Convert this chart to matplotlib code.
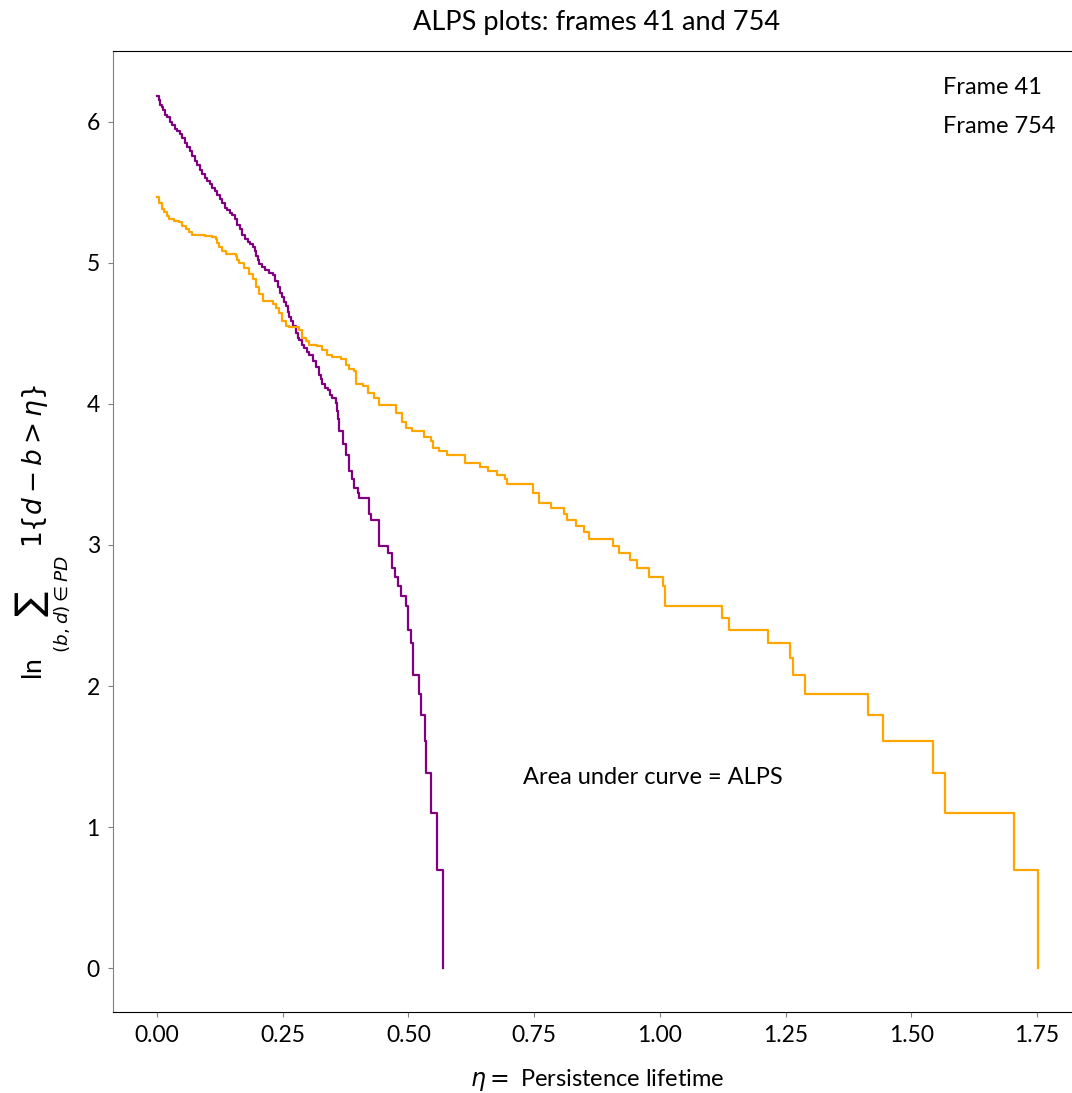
import matplotlib.pyplot as plt
import numpy as np

plt.rcParams['font.family'] = ['Lato', 'DejaVu Sans']
plt.rcParams['mathtext.fontset'] = 'dejavusans'

# step curves: persistence lifetime where the count drops, count after the drop
frame41_eta = [0.000, 0.003, 0.006, 0.009, 0.012, 0.016, 0.020, 0.025, 0.030, 0.035,
               0.040, 0.045, 0.050, 0.055, 0.060, 0.065, 0.070, 0.075, 0.080, 0.085,
               0.090, 0.095, 0.100, 0.105, 0.110, 0.115, 0.120, 0.125, 0.130, 0.135,
               0.140, 0.145, 0.150, 0.155, 0.160, 0.165, 0.170, 0.175, 0.180, 0.185,
               0.190, 0.194, 0.197, 0.200, 0.203, 0.209, 0.215, 0.222, 0.230, 0.235,
               0.240, 0.245, 0.249, 0.253, 0.256, 0.260, 0.263, 0.267, 0.270, 0.276,
               0.280, 0.283, 0.288, 0.293, 0.298, 0.303, 0.310, 0.316, 0.322, 0.326,
               0.329, 0.334, 0.340, 0.345, 0.349, 0.356, 0.358, 0.360, 0.362, 0.369,
               0.376, 0.382, 0.387, 0.392, 0.399, 0.401, 0.422, 0.425, 0.442, 0.460,
               0.467, 0.474, 0.480, 0.485, 0.496, 0.500, 0.505, 0.510, 0.522, 0.525,
               0.533, 0.534, 0.545, 0.556, 0.568]
frame41_count = [483, 469, 455, 446, 437, 424, 416, 403, 395, 384,
                 376, 369, 358, 347, 337, 327, 317, 305, 296, 287,
                 279, 270, 265, 260, 252, 247, 240, 233, 226, 219,
                 215, 211, 208, 202, 194, 189, 181, 176, 172, 169,
                 166, 161, 156, 151, 147, 144, 141, 138, 136, 130,
                 125, 120, 116, 112, 109, 105, 101, 98, 95, 90,
                 87, 86, 83, 81, 79, 77, 74, 71, 67, 65,
                 63, 61, 60, 58, 57, 55, 52, 49, 45, 41,
                 38, 34, 32, 30, 29, 28, 25, 24, 20, 19,
                 17, 16, 15, 14, 13, 11, 10, 8, 7, 6,
                 5, 4, 3, 2, 1]

frame754_eta = [0.000, 0.004, 0.009, 0.014, 0.019, 0.024, 0.034, 0.044, 0.050, 0.057,
                0.063, 0.070, 0.095, 0.110, 0.117, 0.120, 0.123, 0.130, 0.137, 0.157,
                0.160, 0.163, 0.173, 0.183, 0.190, 0.196, 0.203, 0.210, 0.230, 0.236,
                0.243, 0.249, 0.256, 0.263, 0.283, 0.289, 0.296, 0.303, 0.319, 0.329,
                0.339, 0.349, 0.366, 0.376, 0.382, 0.392, 0.396, 0.409, 0.419, 0.432,
                0.442, 0.475, 0.488, 0.495, 0.508, 0.530, 0.545, 0.548, 0.561, 0.576,
                0.613, 0.642, 0.658, 0.676, 0.693, 0.697, 0.747, 0.759, 0.784, 0.810,
                0.815, 0.834, 0.850, 0.860, 0.906, 0.918, 0.941, 0.954, 0.978, 1.006,
                1.011, 1.124, 1.137, 1.216, 1.258, 1.265, 1.288, 1.414, 1.444, 1.544,
                1.567, 1.705, 1.751]
frame754_count = [237, 226, 217, 213, 206, 202, 200, 198, 192, 189,
                  185, 181, 179, 178, 176, 171, 166, 161, 158, 156,
                  151, 148, 143, 137, 132, 125, 119, 113, 111, 108,
                  104, 98, 95, 94, 92, 87, 85, 83, 82, 80,
                  77, 76, 75, 72, 70, 69, 63, 62, 59, 57,
                  54, 51, 48, 46, 45, 43, 42, 40, 39, 38,
                  36, 35, 34, 33, 32, 31, 29, 27, 26, 25,
                  24, 23, 22, 21, 20, 19, 18, 17, 16, 15,
                  13, 12, 11, 10, 9, 8, 7, 6, 5, 4,
                  3, 2, 1]

fig = plt.figure(figsize=(10.72, 10.93), dpi=100)
ax = fig.add_axes([113 / 1072, 81 / 1093, 968 / 1072, 961 / 1093])

ax.step(frame41_eta, np.log(frame41_count), where='post', color='purple', lw=1.6, label='Frame 41')
ax.step(frame754_eta, np.log(frame754_count), where='post', color='orange', lw=1.6, label='Frame 754')

ax.set_xlim(-0.0875, 1.8375)
ax.set_ylim(-0.31, 6.5)
ax.set_xticks([0, 0.25, 0.5, 0.75, 1.0, 1.25, 1.5, 1.75])
ax.set_xticklabels(['0.00', '0.25', '0.50', '0.75', '1.00', '1.25', '1.50', '1.75'])
ax.tick_params(labelsize=16.5, colors='black', pad=6)
ax.tick_params(axis='both', color='gray')
ax.spines['left'].set_color('gray')

ax.text(0.727, 1.35, 'Area under curve = ALPS', fontsize=17, va='center')

leg = ax.legend(loc='upper right', frameon=False, fontsize=17, handlelength=0,
                handletextpad=0, labelspacing=0.75, borderaxespad=0.7)

ax.set_title('ALPS plots: frames 41 and 754', fontsize=19.5, pad=15)
ax.set_xlabel(r'$\eta =$ Persistence lifetime', fontsize=17, labelpad=15)
ax.set_ylabel(r'ln $\sum_{(b,d)\in PD}\ 1\{d-b>\eta\}$', fontsize=19, labelpad=10)

plt.savefig('out.png', dpi=100)
